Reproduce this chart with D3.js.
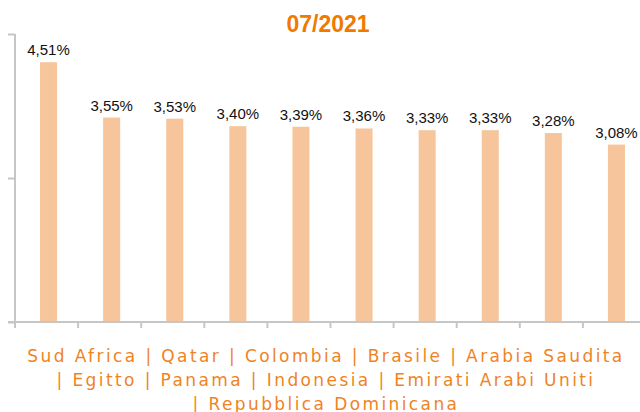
<!DOCTYPE html>
<html>
<head>
    <meta charset="utf-8">
    <title>07/2021</title>
    <script src="https://d3js.org/d3.v7.min.js"></script>
    <style>
        body {
            margin: 0;
            padding: 0;
            background-color: #ffffff;
        }
        .bar {
            fill: #f6c59b;
        }
        .value {
            font-family: "Liberation Sans", Arial, sans-serif;
            font-size: 15px;
            fill: #111;
        }
        .cat-label {
            font-family: "DejaVu Sans", Verdana, sans-serif;
            font-size: 17px;
            letter-spacing: 2.4px;
            fill: #f0831f;
        }
    </style>
</head>
<body>
    <div id="chart"></div>

    <script>
        var categories = ["Sud Africa", "Qatar", "Colombia", "Brasile", "Arabia Saudita",
            "Egitto", "Panama", "Indonesia", "Emirati Arabi Uniti", "Repubblica Dominicana"];
        var values = [4.51, 3.55, 3.53, 3.40, 3.39, 3.36, 3.33, 3.33, 3.28, 3.08];
        var valueLabels = ["4,51%", "3,55%", "3,53%", "3,40%", "3,39%", "3,36%", "3,33%", "3,33%", "3,28%", "3,08%"];
        var yTicks = [0, 2.5, 5];
        var title = "07/2021";

        var width = 640, height = 412;

        var svg = d3.select("#chart")
            .append("svg")
            .attr("width", width)
            .attr("height", height);

        // scales: bars sit a little right of the band centre, so ticks get their own band scale
        var xScale = d3.scaleBand()
            .domain(categories)
            .range([17, 648])
            .paddingInner(0.73)
            .paddingOuter(0.365);

        var tickScale = d3.scaleBand()
            .domain(categories)
            .range([15, 646]);

        var yScale = d3.scaleLinear()
            .domain([0, 5])
            .range([322, 34]);

        // title
        svg.append("text")
            .attr("x", 328)
            .attr("y", 32)
            .attr("text-anchor", "middle")
            .style("font-family", "Liberation Sans, Arial, sans-serif")
            .style("font-size", "23px")
            .style("font-weight", "bold")
            .style("fill", "#f07a00")
            .text(title);

        // bars
        svg.selectAll(".bar")
            .data(values)
            .enter().append("rect")
            .attr("class", "bar")
            .attr("x", function(d, i) { return xScale(categories[i]); })
            .attr("width", xScale.bandwidth())
            .attr("y", function(d) { return yScale(d); })
            .attr("height", function(d) { return yScale(0) - yScale(d); });

        // value labels
        svg.selectAll(".value")
            .data(values)
            .enter().append("text")
            .attr("class", "value")
            .attr("x", function(d, i) { return xScale(categories[i]) + xScale.bandwidth() / 2; })
            .attr("y", function(d) { return yScale(d) - 7; })
            .attr("text-anchor", "middle")
            .text(function(d, i) { return valueLabels[i]; });

        // y axis (no labels)
        var yAxis = svg.append("g")
            .attr("transform", "translate(15,0)")
            .call(d3.axisLeft(yScale).tickValues(yTicks).tickSize(7).tickFormat(""));
        yAxis.select(".domain").attr("d", "M0," + yScale(5) + "V" + (yScale(0) + 6));

        // x axis, ticks at band boundaries
        var xAxis = svg.append("g")
            .attr("transform", "translate(0," + yScale(0) + ")");
        xAxis.append("line")
            .attr("x1", 8).attr("x2", 640)
            .attr("y1", 0).attr("y2", 0);
        xAxis.selectAll(".xtick")
            .data(categories)
            .enter().append("line")
            .attr("class", "xtick")
            .attr("x1", function(d) { return tickScale(d); })
            .attr("x2", function(d) { return tickScale(d); })
            .attr("y1", 0).attr("y2", 6);

        svg.selectAll(".domain, .tick line, g line")
            .style("stroke", "#c6c6c6")
            .style("stroke-width", 2);

        // category labels as one wrapped line of text
        var tokens = categories.map(function(c, i) { return i ? "| " + c : c; });
        var labelText = svg.append("text")
            .attr("class", "cat-label")
            .attr("text-anchor", "middle");
        var maxW = 620;
        var lines = [];
        var cur = "";
        var probe = svg.append("text").attr("class", "cat-label");
        tokens.forEach(function(t) {
            var trial = cur ? cur + " " + t : t;
            probe.text(trial);
            if (cur && probe.node().getComputedTextLength() > maxW) {
                lines.push(cur);
                cur = t;
            } else {
                cur = trial;
            }
        });
        if (cur) lines.push(cur);
        probe.remove();

        labelText.selectAll("tspan")
            .data(lines)
            .enter().append("tspan")
            .attr("x", 326)
            .attr("y", function(d, i) { return 362 + i * 24; })
            .text(function(d) { return d; });
    </script>
</body>
</html>
